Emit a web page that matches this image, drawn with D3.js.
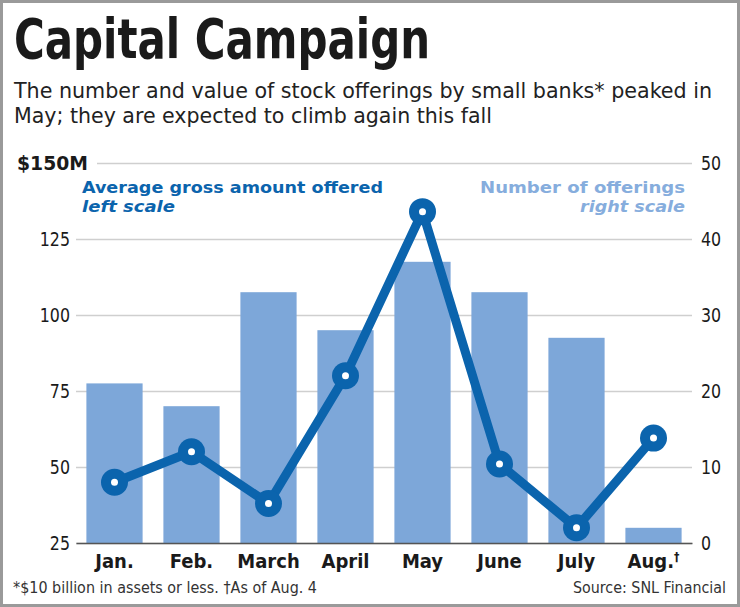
<!DOCTYPE html>
<meta charset="utf-8">
<style>
body { margin: 0; background: #fff; }
svg text { font-family: "DejaVu Sans Condensed", "DejaVu Sans", sans-serif; }
.grid line { stroke: #cfcfcf; stroke-width: 1.5; }
.tick text { fill: #1a1a1a; }
</style>
<body>
<div id="chart"></div>
<script src="https://d3js.org/d3.v7.min.js"></script>
<script>
// data
var months = ["Jan.", "Feb.", "March", "April", "May", "June", "July", "Aug."];
var monthMarks = ["", "", "", "", "", "", "", "\u2020"];
var offerings = [21, 18, 33, 28, 37, 33, 27, 2];            // right scale
var avgAmount = [45, 55, 38, 80, 134, 51, 30, 59.5];        // left scale, $M
var leftTicks = [25, 50, 75, 100, 125, 150];
var rightTicks = [0, 10, 20, 30, 40, 50];

var W = 740, H = 607;
var lineBlue = "#0b64ad", barBlue = "#7da7d9", legendLight = "#86addd";

var svg = d3.select("#chart").append("svg")
    .attr("width", W).attr("height", H);

svg.append("rect")
    .attr("x", 1.5).attr("y", 1.5).attr("width", W - 3).attr("height", H - 3)
    .attr("fill", "#fff").attr("stroke", "#9a9a9a").attr("stroke-width", 3);

var x0 = 76, x1 = 692, yTop = 163, yBase = 543;

var x = d3.scaleBand().domain(months).range([x0, x1])
    .paddingInner(0.27).paddingOuter(0.135);
var yL = d3.scaleLinear().domain([25, 150]).range([yBase, yTop]);
var yR = d3.scaleLinear().domain([0, 50]).range([yBase, yTop]);

// squeeze a text to look like the narrow newspaper face
function narrow(sel, k) {
    sel.each(function() {
        var len = this.getComputedTextLength();
        d3.select(this).attr("textLength", len * k).attr("lengthAdjust", "spacingAndGlyphs");
    });
}

// title + subtitle
svg.append("text").attr("x", 14).attr("y", 58)
    .attr("font-size", 56).attr("font-weight", "bold").attr("fill", "#1a1a1a")
    .attr("textLength", 416).attr("lengthAdjust", "spacingAndGlyphs")
    .text("Capital Campaign");
svg.append("text").attr("x", 14).attr("y", 98)
    .attr("font-size", 21).attr("fill", "#222")
    .attr("textLength", 698).attr("lengthAdjust", "spacingAndGlyphs")
    .text("The number and value of stock offerings by small banks* peaked in");
svg.append("text").attr("x", 14).attr("y", 123)
    .attr("font-size", 21).attr("fill", "#222")
    .attr("textLength", 478).attr("lengthAdjust", "spacingAndGlyphs")
    .text("May; they are expected to climb again this fall");

// left axis with gridlines
var gL = svg.append("g").attr("class", "grid")
    .attr("transform", "translate(" + x0 + ",0)")
    .call(d3.axisLeft(yL).tickValues(leftTicks).tickSize(-(x1 - x0)).tickPadding(6)
        .tickFormat(function(d) { return d == 150 ? "$150M" : d; }));
gL.select(".domain").remove();
gL.selectAll(".tick text").attr("font-size", 20);
narrow(gL.selectAll(".tick").filter(function(d) { return d != 150; }).select("text"), 0.88);
gL.selectAll(".tick").filter(function(d) { return d == 150; })
    .each(function() {
        d3.select(this).select("line").attr("x1", 21);
        d3.select(this).select("text").attr("x", 12).attr("font-weight", "bold")
            .attr("textLength", 71).attr("lengthAdjust", "spacingAndGlyphs");
    });

// right axis labels
var gR = svg.append("g")
    .attr("transform", "translate(" + x1 + ",0)")
    .call(d3.axisRight(yR).tickValues(rightTicks).tickSize(0).tickPadding(9));
gR.select(".domain").remove();
gR.selectAll(".tick text").attr("font-size", 20);
narrow(gR.selectAll(".tick text"), 0.88);

// bars
svg.selectAll(".bar").data(offerings).enter().append("rect")
    .attr("class", "bar")
    .attr("x", function(d, i) { return x(months[i]); })
    .attr("width", x.bandwidth())
    .attr("y", function(d) { return yR(d); })
    .attr("height", function(d) { return yBase - yR(d); })
    .attr("fill", barBlue);

// baseline + month labels
var gX = svg.append("g").attr("transform", "translate(0," + yBase + ")")
    .call(d3.axisBottom(x).tickSize(0).tickPadding(11));
gX.select(".domain").attr("stroke", "#555").attr("stroke-width", 1.5);
gX.selectAll(".tick text").attr("font-size", 20).attr("font-weight", "bold")
    .each(function(d, i) {
        if (monthMarks[i]) {
            d3.select(this).append("tspan").attr("font-size", 12)
                .attr("dy", "-0.6em").text(monthMarks[i]);
        }
    });

// line
var line = d3.line()
    .x(function(d, i) { return x(months[i]) + x.bandwidth() / 2; })
    .y(function(d) { return yL(d); });
svg.append("path").datum(avgAmount)
    .attr("d", line).attr("fill", "none")
    .attr("stroke", lineBlue).attr("stroke-width", 9)
    .attr("stroke-linejoin", "round");
svg.selectAll(".dot").data(avgAmount).enter().append("circle")
    .attr("class", "dot")
    .attr("cx", function(d, i) { return x(months[i]) + x.bandwidth() / 2; })
    .attr("cy", function(d) { return yL(d); })
    .attr("r", 13.5).attr("fill", lineBlue);
svg.selectAll(".hole").data(avgAmount).enter().append("circle")
    .attr("class", "hole")
    .attr("cx", function(d, i) { return x(months[i]) + x.bandwidth() / 2; })
    .attr("cy", function(d) { return yL(d); })
    .attr("r", 3.5).attr("fill", "#fff");

// legends
svg.append("text").attr("x", 82).attr("y", 193)
    .attr("font-size", 15.5).attr("font-weight", "bold").attr("fill", lineBlue)
    .attr("textLength", 301).attr("lengthAdjust", "spacingAndGlyphs")
    .text("Average gross amount offered");
svg.append("text").attr("x", 82).attr("y", 211.5)
    .attr("font-size", 15.5).attr("font-weight", "bold").attr("font-style", "italic")
    .attr("fill", lineBlue)
    .attr("textLength", 93).attr("lengthAdjust", "spacingAndGlyphs")
    .text("left scale");
svg.append("text").attr("x", 685).attr("y", 193).attr("text-anchor", "end")
    .attr("font-size", 15.5).attr("font-weight", "bold").attr("fill", legendLight)
    .attr("textLength", 205).attr("lengthAdjust", "spacingAndGlyphs")
    .text("Number of offerings");
svg.append("text").attr("x", 685).attr("y", 211.5).attr("text-anchor", "end")
    .attr("font-size", 15.5).attr("font-weight", "bold").attr("font-style", "italic")
    .attr("fill", legendLight)
    .attr("textLength", 105).attr("lengthAdjust", "spacingAndGlyphs")
    .text("right scale");

// footnotes
svg.append("text").attr("x", 13).attr("y", 593)
    .attr("font-size", 15).attr("fill", "#333")
    .attr("textLength", 304).attr("lengthAdjust", "spacingAndGlyphs")
    .text("*$10 billion in assets or less. \u2020As of Aug. 4");
svg.append("text").attr("x", 726).attr("y", 593).attr("text-anchor", "end")
    .attr("font-size", 15).attr("fill", "#333")
    .attr("textLength", 153).attr("lengthAdjust", "spacingAndGlyphs")
    .text("Source: SNL Financial");
</script>
</body>
